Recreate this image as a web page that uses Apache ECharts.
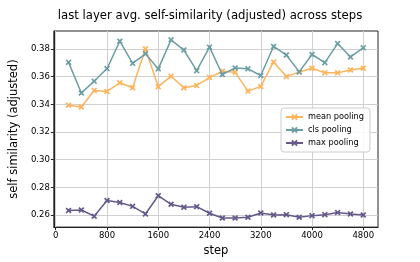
<!DOCTYPE html>
<html><head><meta charset="utf-8">
<script src="https://cdn.jsdelivr.net/npm/echarts@6/dist/echarts.min.js"></script>
<style>html,body{margin:0;padding:0;background:#fff}#c{width:420px;height:262px}</style>
</head><body><div id="c"></div>
<script>
const steps = [200,400,600,800,1000,1200,1400,1600,1800,2000,2200,2400,2600,2800,3000,3200,3400,3600,3800,4000,4200,4400,4600,4800];
const meanPooling = [0.3394,0.3381,0.3501,0.3494,0.3556,0.3520,0.3802,0.3528,0.3604,0.3520,0.3537,0.3594,0.3640,0.3632,0.3496,0.3530,0.3707,0.3601,0.3635,0.3661,0.3628,0.3628,0.3649,0.3661];
const clsPooling = [0.3704,0.3482,0.3568,0.3659,0.3857,0.3697,0.3766,0.3657,0.3867,0.3793,0.3644,0.3814,0.3616,0.3664,0.3657,0.3609,0.3819,0.3757,0.3635,0.3761,0.3702,0.3840,0.3743,0.3809];
const maxPooling = [0.2632,0.2636,0.2591,0.2705,0.2690,0.2662,0.2607,0.2739,0.2677,0.2656,0.2660,0.2612,0.2578,0.2578,0.2583,0.2614,0.2600,0.2602,0.2583,0.2595,0.2602,0.2617,0.2607,0.2600];
const xTicks = [0,800,1600,2400,3200,4000,4800];
const yTicks = [0.26,0.28,0.30,0.32,0.34,0.36,0.38];
const seriesNames = ['mean pooling','cls pooling','max pooling'];
const colors = ['#FDB45C','#6B9EA4','#65598A'];

const F = 'DejaVu Sans';
const xMark = 'path://M2,0 L5,3 L8,0 L10,2 L7,5 L10,8 L8,10 L5,7 L2,10 L0,8 L3,5 L0,2 Z';
function mk(name, vals, i){
  return {name, type:'line', data: steps.map((s,k)=>[s, vals[k]]),
    color: colors[i], symbol: xMark, symbolSize: 6, showSymbol: true,
    lineStyle:{width:1.5, color: colors[i]}, itemStyle:{color: colors[i]}, animation:false, z: 3+i};
}
const chart = echarts.init(document.getElementById('c'), null, {renderer:'canvas'});
chart.setOption({
  animation:false,
  title:{text:'last layer avg. self-similarity (adjusted) across steps', left:'center', top:5,
    textStyle:{fontFamily:F, fontSize:11.7, fontWeight:'normal', color:'#000'}},
  grid:{left:53, right:42, top:31, bottom:33, show:true, borderColor:'#222', borderWidth:1, backgroundColor:'transparent'},
  legend:{orient:'vertical', left:281, top:108, data:seriesNames, itemWidth:17, itemHeight:8, itemGap:5,
    padding:[5,6,5,4], backgroundColor:'rgba(255,255,255,0.85)', borderColor:'#ccc', borderWidth:1, borderRadius:3,
    textStyle:{fontFamily:F, fontSize:8.2, color:'#000'}},
  xAxis:{type:'value', min:-30, max:5030, name:'step', nameLocation:'middle', nameGap:17,
    nameTextStyle:{fontFamily:F, fontSize:11.5, color:'#000'},
    axisLine:{show:true, onZero:false, lineStyle:{color:'#222'}},
    axisTick:{show:true, length:3, customValues:xTicks, lineStyle:{color:'#222'}},
    axisLabel:{customValues:xTicks, fontFamily:F, fontSize:8.5, color:'#000', margin:4, formatter:v=>String(v)},
    splitLine:{show:true, lineStyle:{color:'#d0d0d0', width:1}}},
  yAxis:{type:'value', min:0.2512, max:0.3931, name:'self similarity (adjusted)', nameLocation:'middle', nameGap:25,
    nameTextStyle:{fontFamily:F, fontSize:11.5, color:'#000'},
    axisLine:{show:true, onZero:false, lineStyle:{color:'#222'}},
    axisTick:{show:true, length:3, customValues:yTicks, lineStyle:{color:'#222'}},
    axisLabel:{customValues:yTicks, fontFamily:F, fontSize:8.5, color:'#000', margin:4, formatter:v=>v.toFixed(2)},
    splitLine:{show:true, lineStyle:{color:'#d0d0d0', width:1}}},
  series:[mk(seriesNames[0], meanPooling, 0), mk(seriesNames[1], clsPooling, 1), mk(seriesNames[2], maxPooling, 2)]
});
</script></body></html>
